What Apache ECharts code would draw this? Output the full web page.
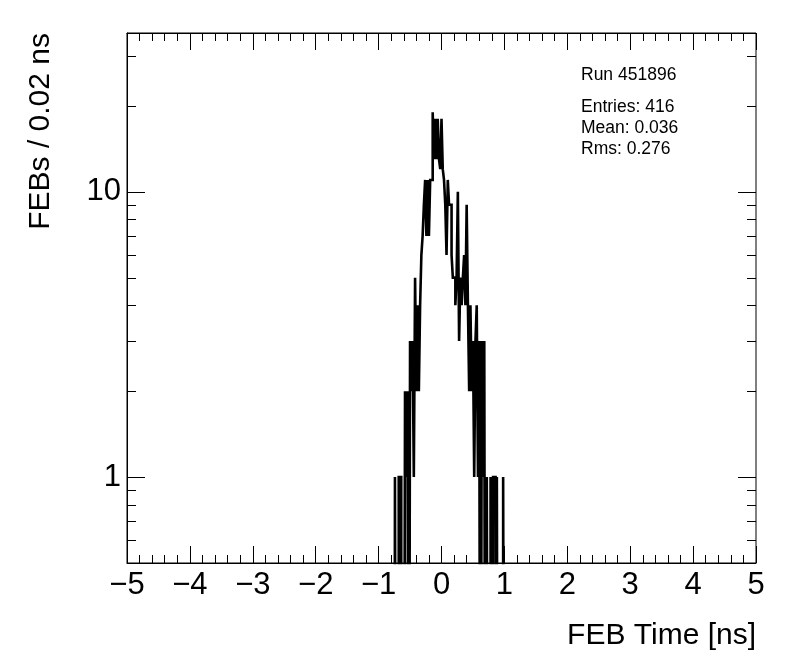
<!DOCTYPE html>
<html><head><meta charset="utf-8">
<script src="https://cdn.jsdelivr.net/npm/echarts@6/dist/echarts.min.js"></script>
<style>html,body{margin:0;padding:0;background:#fff}#c{width:796px;height:672px}</style>
</head><body><div id="c"></div>
<script>
// ---- data ----
const binWidth = 0.02;          // ns per bin
const firstBinLow = -0.76;      // lower edge of first listed bin
const counts = [
  0,1,0,0,1,1,0,0,0,2,
  1,2,0,3,2,3,1,5,2,4,
  2,4,6,7,9,11,7,11,7,11,
  11,19,13,18,13,18,13,12,18,12,
  11,9,6,11,9,9,6,5,5,4,
  5,10,3,5,4,5,6,4,9,4,
  2,4,2,3,1,3,4,1,3,0,
  3,1,3,0,1,0,0,1,0,1,
  1,0,1,0,0,0,0,1,0
];
const xTicks = [-5,-4,-3,-2,-1,0,1,2,3,4,5];
const yMajorTicks = [1, 10];
const yMinorTicks = [0.6,0.7,0.8,0.9,2,3,4,5,6,7,8,9,20,30];
const statsLines = ['Run 451896', 'Entries: 416', 'Mean: 0.036', 'Rms: 0.276'];
const xTitle = 'FEB Time [ns]';
const yTitle = 'FEBs / 0.02 ns';

// ---- chart ----
const FONT = '"Liberation Sans", Arial, Helvetica, sans-serif';
const zeroFloor = 0.01; // empty bins drawn below the visible range (log axis)
const histData = counts.map((c, i) => [firstBinLow + (i + 0.5) * binWidth, c > 0 ? c : zeroFloor]);
const tickData = yMajorTicks.concat(yMinorTicks).map(v => [xTicks[0], v]);

const chart = echarts.init(document.getElementById('c'), null, {renderer: 'canvas'});
const xAxisBase = {
  type: 'value', min: xTicks[0], max: xTicks[xTicks.length - 1], interval: 1,
  axisLine: {show: true, onZero: false, lineStyle: {color: '#000', width: 1}},
  axisTick: {show: true, inside: true, length: 17, lineStyle: {color: '#000', width: 1}},
  minorTick: {show: true, splitNumber: 5, length: 8, lineStyle: {color: '#000', width: 1}},
  splitLine: {show: false}, minorSplitLine: {show: false}
};
chart.setOption({
  animation: false,
  backgroundColor: '#fff',
  grid: {left: 127, top: 33, width: 629, height: 530, show: true, borderColor: '#000', borderWidth: 1, backgroundColor: 'transparent'},
  xAxis: [
    Object.assign({}, xAxisBase, {
      position: 'bottom',
      axisLabel: {show: true, color: '#000', fontSize: 31, fontFamily: FONT, margin: 7,
        formatter: v => String(v).replace('-', '\u2212')}
    }),
    Object.assign({}, xAxisBase, {position: 'top', axisLabel: {show: false}})
  ],
  yAxis: [{
    type: 'log', logBase: 10, min: 0.5, max: 36, position: 'left',
    axisLine: {show: true, onZero: false, lineStyle: {color: '#000', width: 1}},
    axisTick: {show: false},
    axisLabel: {show: true, color: '#000', fontSize: 31, fontFamily: FONT, margin: 6,
      showMinLabel: false, showMaxLabel: false, formatter: v => String(v)},
    splitLine: {show: false}, minorTick: {show: false}
  }],
  series: [
    {
      type: 'line', xAxisIndex: 0, yAxisIndex: 0, data: histData, step: 'middle',
      showSymbol: false, symbol: 'none', clip: true,
      lineStyle: {color: '#000', width: 2.6, join: 'miter', cap: 'butt'}, z: 3
    },
    {
      type: 'custom', xAxisIndex: 0, yAxisIndex: 0, data: tickData, clip: false, z: 4,
      renderItem: function (params, api) {
        const v = api.value(1);
        const len = yMajorTicks.indexOf(v) >= 0 ? 18 : 9;
        const l = api.coord([xTicks[0], v]);
        const r = api.coord([xTicks[xTicks.length - 1], v]);
        const y = Math.round(l[1]) + 0.5;
        return {type: 'group', children: [
          {type: 'line', shape: {x1: l[0], y1: y, x2: l[0] + len, y2: y}, style: {stroke: '#000', lineWidth: 1}},
          {type: 'line', shape: {x1: r[0], y1: y, x2: r[0] - len, y2: y}, style: {stroke: '#000', lineWidth: 1}}
        ]};
      }
    }
  ],
  graphic: [
    {type: 'text', right: 40, top: 621, style: {text: xTitle, font: '30px ' + FONT, fill: '#000'}},
    {type: 'text', x: 41, y: 33, rotation: Math.PI / 2,
      style: {text: yTitle, font: '30px ' + FONT, fill: '#000', textAlign: 'right', textVerticalAlign: 'middle'}},
    {type: 'text', left: 581, top: 66, style: {text: statsLines[0], font: '17.5px ' + FONT, fill: '#000'}},
    {type: 'text', left: 581, top: 98, style: {text: statsLines[1], font: '17.5px ' + FONT, fill: '#000'}},
    {type: 'text', left: 581, top: 119, style: {text: statsLines[2], font: '17.5px ' + FONT, fill: '#000'}},
    {type: 'text', left: 581, top: 140, style: {text: statsLines[3], font: '17.5px ' + FONT, fill: '#000'}}
  ]
});
</script>
</body></html>
